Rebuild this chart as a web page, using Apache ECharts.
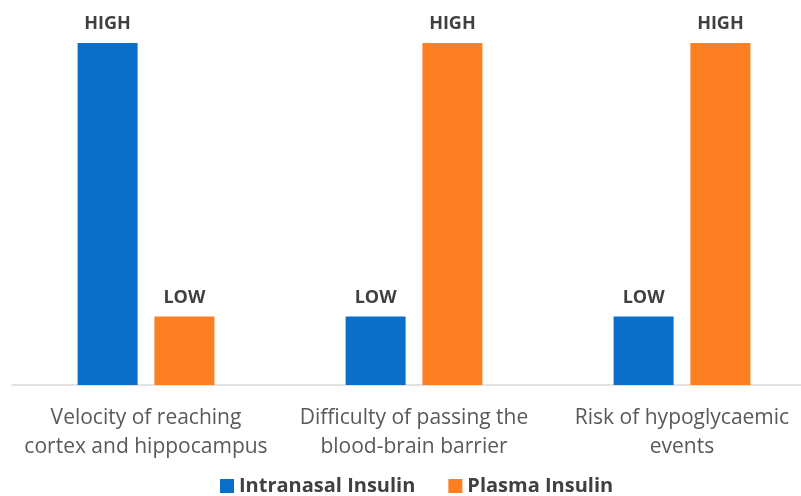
<!DOCTYPE html>
<html><head><meta charset="utf-8">
<script src="https://cdn.jsdelivr.net/npm/echarts@6/dist/echarts.min.js"></script>
<style>html,body{margin:0;padding:0;background:#fff}#c{width:801px;height:496px}</style>
</head><body><div id="c"></div>
<script>
const categories = ["Velocity of reaching\ncortex and hippocampus", "Difficulty of passing the\nblood-brain barrier", "Risk of hypoglycaemic\nevents"];
const intranasal = [1, 0.2, 0.2];
const plasma = [0.2, 1, 1];
const levelText = {1: "HIGH", 0.2: "LOW"};
const font = "'Open Sans', sans-serif";
const chart = echarts.init(document.getElementById('c'), null, {renderer: 'canvas'});
const lbl = {show: true, position: 'top', distance: 10, fontFamily: font, fontWeight: 'bold', fontSize: 18, color: '#404040', formatter: p => levelText[p.value]};
chart.setOption({
  animation: false,
  grid: {left: 12, width: 804, top: 43, bottom: 111, containLabel: false, outerBoundsMode: 'none'},
  legend: {bottom: -5, left: 215, itemWidth: 14, itemHeight: 14, itemGap: 33, icon: 'rect',
    textStyle: {fontFamily: font, fontWeight: 'bold', fontSize: 20, color: '#404040'}},
  xAxis: {type: 'category', data: categories,
    axisLine: {lineStyle: {color: '#d9d9d9', width: 1.5}}, axisTick: {show: false},
    axisLabel: {fontFamily: font, fontSize: 21, color: '#595959', lineHeight: 29, margin: 19, interval: 0}},
  yAxis: {type: 'value', min: 0, max: 1, show: false, splitLine: {show: false}},
  series: [
    {name: 'Intranasal Insulin', type: 'bar', data: intranasal, barWidth: 60, barGap: '28%', itemStyle: {color: '#0A6FC8'}, label: lbl},
    {name: 'Plasma Insulin', type: 'bar', data: plasma, barWidth: 60, itemStyle: {color: '#FE7F22'}, label: lbl}
  ]
});
</script></body></html>
